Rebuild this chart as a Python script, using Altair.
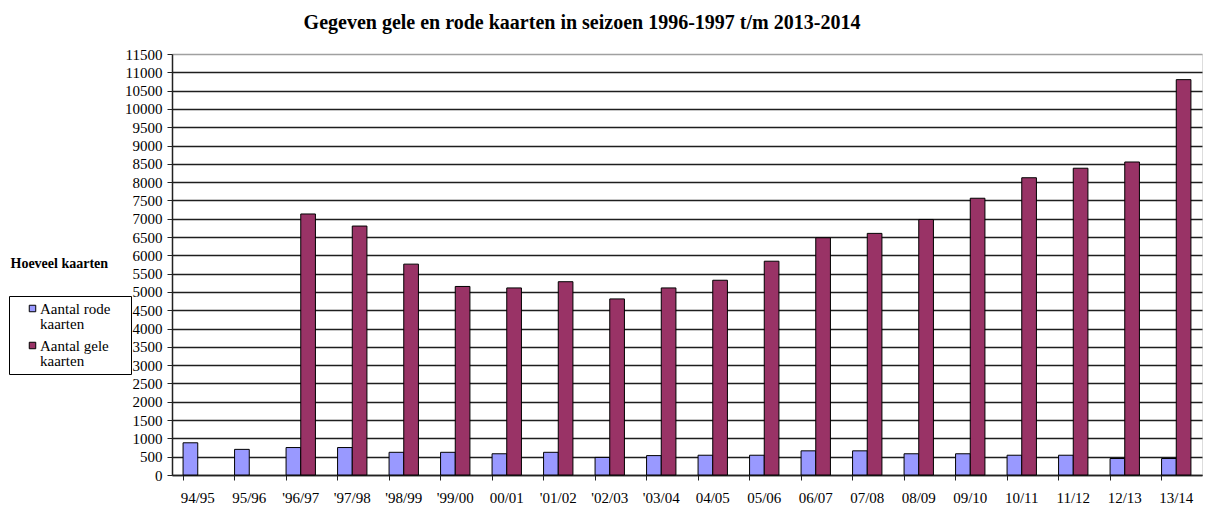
import altair as alt
import pandas as pd

seizoenen = ["94/95", "95/96", "'96/97", "'97/98", "'98/99", "'99/00", "00/01", "'01/02",
             "'02/03", "'03/04", "04/05", "05/06", "06/07", "07/08", "08/09", "09/10",
             "10/11", "11/12", "12/13", "13/14"]
rode_kaarten = [880, 700, 750, 750, 620, 620, 580, 620, 480, 530,
                540, 540, 660, 660, 580, 580, 540, 540, 450, 450]
gele_kaarten = [None, None, 7130, 6800, 5760, 5150, 5110, 5280, 4810, 5110,
                5320, 5840, 6480, 6600, 6980, 7560, 8120, 8380, 8550, 10800]
reeksen = ["Aantal rode kaarten", "Aantal gele kaarten"]
kleuren = ["#9999FF", "#993366"]
y_ticks = list(range(0, 11501, 500))

rows = []
for s, r, g in zip(seizoenen, rode_kaarten, gele_kaarten):
    rows.append({"Seizoen": s, "Soort": reeksen[0], "Aantal": r})
    if g is not None:
        rows.append({"Seizoen": s, "Soort": reeksen[1], "Aantal": g})
df = pd.DataFrame(rows)

FONT = "Liberation Serif"
PAD = "    \u200b"

chart = alt.Chart(df).mark_bar(stroke="#000000", strokeWidth=1).encode(
    x=alt.X(
        "Seizoen:N", sort=seizoenen,
        scale=alt.Scale(domain=seizoenen, paddingInner=0.43, paddingOuter=0.215),
        axis=alt.Axis(title=None, labelAngle=0, bandPosition=0,
                      tickSize=5, tickColor="#222222", domainColor="#222222", domainWidth=1.5,
                      labelFont=FONT, labelFontSize=15, labelColor="#000000",
                      labelPadding=10, grid=False, labelBaseline="top"),
    ),
    xOffset=alt.XOffset("Soort:N", sort=reeksen, scale=alt.Scale(domain=reeksen)),
    y=alt.Y(
        "Aantal:Q",
        scale=alt.Scale(domain=[0, 11500], nice=False),
        axis=alt.Axis(values=y_ticks, format="d", title="Hoeveel kaarten", titleAngle=0,
                      titleX=-162, titleY=209, titleAlign="left", titleBaseline="middle",
                      titleFont=FONT, titleFontSize=14, titleFontWeight="bold",
                      titleColor="#000000",
                      labelFont=FONT, labelFontSize=15, labelColor="#000000",
                      labelPadding=5, tickSize=5, tickColor="#222222",
                      domainColor="#222222", domainWidth=1.5,
                      grid=True, gridWidth=1.4,
                      gridColor={"condition": {"test": "datum.value >= 11500", "value": "#a0a0a0"},
                                 "value": "#1e1e1e"}),
    ),
    color=alt.Color(
        "Soort:N", sort=reeksen,
        scale=alt.Scale(domain=reeksen, range=kleuren),
        legend=alt.Legend(title=None, orient="none", legendX=-163, legendY=242,
                          direction="vertical", fillColor="#FFFFFF", strokeColor="#000000",
                          padding=5, symbolType="square", symbolSize=42,
                          symbolStrokeColor="#000000", symbolStrokeWidth=1,
                          symbolOffset=11, labelOffset=0,
                          labelFont=FONT, labelFontSize=15, labelColor="#000000",
                          rowPadding=6,
                          labelExpr="[replace(datum.label, ' kaarten', '') + '" + PAD + "', 'kaarten']"),
    ),
).properties(
    width=1030,
    height=421,
    autosize=alt.AutoSizeParams(type="none"),
    padding={"left": 164, "top": 46, "right": 4, "bottom": 30},
    title=alt.TitleParams(
        text="Gegeven gele en rode kaarten in seizoen 1996-1997 t/m 2013-2014",
        font=FONT, fontSize=20, fontWeight="bold", color="#000000",
        anchor="middle", frame="group", dx=-105, offset=14,
    ),
).configure_view(
    fill="#C0C0C0", stroke="#9a9a9a", strokeWidth=1
).configure(
    background="#FFFFFF",
    style={"guide-label": {"lineHeight": 15}},
)

chart.save("out.html", embed_options={"renderer": "svg", "actions": False})
